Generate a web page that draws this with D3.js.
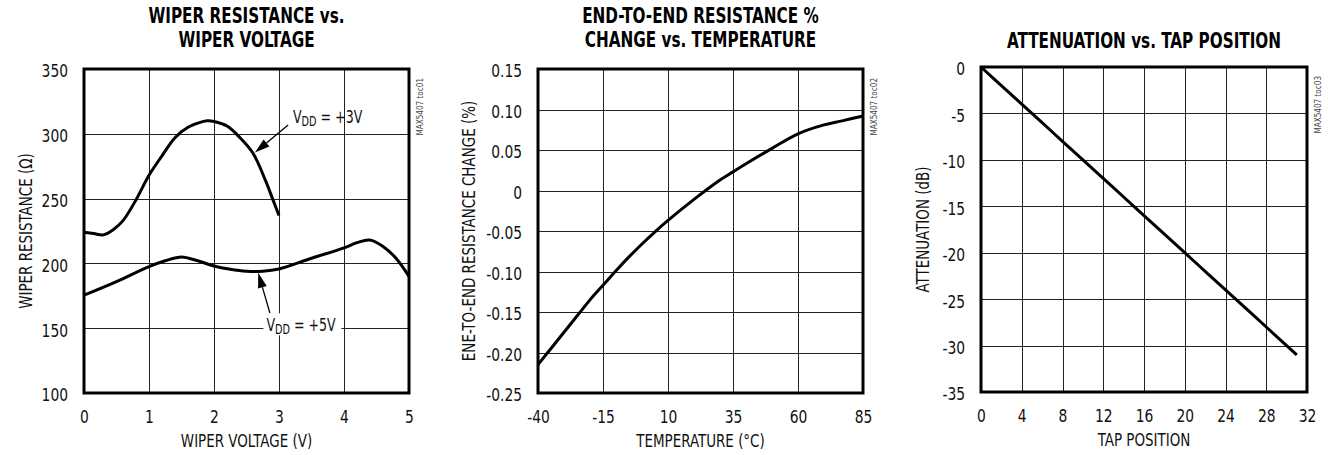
<!DOCTYPE html>
<html>
<head>
<meta charset="utf-8">
<script src="https://cdn.jsdelivr.net/npm/d3@7"></script>
<style>
  body { margin: 0; background: #fff; }
  svg { display: block; }
  text { font-family: "Liberation Sans Narrow", "Arial Narrow", "DejaVu Sans Condensed", sans-serif; fill: #111; }
  .title { font-weight: bold; font-size: 22px; fill: #000; }
  .tick text { font-size: 17.5px; }
  .axtitle { font-size: 17px; }
  .side { font-size: 9.5px; fill: #444; }
  .note { font-size: 17.5px; }
</style>
</head>
<body>
<script>

// panel 1 : wiper resistance vs wiper voltage
var volts3 = [0, 0.15, 0.3, 0.45, 0.6, 0.8, 1.0, 1.2, 1.4, 1.6, 1.8, 1.9, 2.0, 2.2, 2.4, 2.6, 2.8, 2.9, 3.0];
var ohms3  = [224, 223, 222, 226, 233, 249, 268, 283, 297, 305, 309, 310, 309.5, 306, 297, 285, 263, 250, 237];
var volts5 = [0, 0.5, 1.0, 1.25, 1.5, 1.75, 2.0, 2.25, 2.5, 2.75, 3.0, 3.5, 4.0, 4.2, 4.4, 4.6, 4.8, 5.0];
var ohms5  = [175.5, 186, 197.5, 202, 205, 202, 198, 195.5, 194, 194, 195.7, 204, 212, 216, 218, 213, 204, 190];
var voltTicks = [0, 1, 2, 3, 4, 5];
var ohmTicks = [100, 150, 200, 250, 300, 350];

// panel 2 : end-to-end resistance change vs temperature
var tempC = [-40, -35, -30, -25, -20, -15, -10, -5, 0, 5, 10, 20, 30, 35, 40, 50, 60, 70, 77, 85];
var pctChange = [-0.215, -0.195, -0.175, -0.155, -0.135, -0.117, -0.099, -0.082, -0.066, -0.051, -0.037, -0.011, 0.013, 0.023, 0.033, 0.052, 0.070, 0.081, 0.086, 0.092];
var tempTicks = [-40, -15, 10, 35, 60, 85];
var pctTicks = [-0.25, -0.20, -0.15, -0.10, -0.05, 0, 0.05, 0.10, 0.15];

// panel 3 : attenuation vs tap position
var taps = [0, 1, 2, 3, 4, 5, 6, 7, 8, 9, 10, 11, 12, 13, 14, 15, 16, 17, 18, 19, 20, 21, 22, 23, 24, 25, 26, 27, 28, 29, 30, 31];
var attenDb = [0, -1, -2, -3, -4, -5, -6, -7, -8, -9, -10, -11, -12, -13, -14, -15, -16, -17, -18, -19, -20, -21, -22, -23, -24, -25, -26, -27, -28, -29, -30, -31];
var tapTicks = [0, 4, 8, 12, 16, 20, 24, 28, 32];
var dbTicks = [-35, -30, -25, -20, -15, -10, -5, 0];

var svg = d3.select("body").append("svg").attr("width", 1328).attr("height", 455);

// the original uses a condensed face, so squeeze the fallback font sideways
var squeeze = { title: 0.77, tick: 0.88, axis: 0.88, side: 0.85, note: 0.8 };

function zip(xs, ys) { return xs.map(function (x, i) { return [x, ys[i]]; }); }

function label(cls, x, y, anchor, txt, rot) {
    return svg.append("text").attr("class", cls).attr("text-anchor", anchor)
        .attr("transform", "translate(" + x + "," + y + ")" + (rot ? " rotate(-90)" : "") + " scale(" + squeeze[cls === "axtitle" ? "axis" : cls] + ",1)")
        .text(txt);
}

function panel(p) {
    var x = d3.scaleLinear().domain(p.xDomain).range([p.left, p.left + p.w]);
    var y = d3.scaleLinear().domain(p.yDomain).range([p.top + p.h, p.top]);

    p.title.forEach(function (t, i) {
        label("title", p.left + p.w / 2, p.titleY[i], "middle", t, false);
    });

    var xAxis = d3.axisBottom(x).tickValues(p.xTicks).tickSize(-p.h).tickPadding(18).tickFormat(p.xFmt);
    var gx = svg.append("g").attr("transform", "translate(0," + (p.top + p.h) + ")").call(xAxis);
    var yAxis = d3.axisLeft(y).tickValues(p.yTicks).tickSize(-p.w).tickPadding(16).tickFormat(p.yFmt);
    var gy = svg.append("g").attr("transform", "translate(" + p.left + ",0)").call(yAxis);
    [gx, gy].forEach(function (g) {
        g.select(".domain").remove();
        g.selectAll(".tick line").attr("stroke", "#222").attr("shape-rendering", "crispEdges");
        g.selectAll(".tick text").attr("font-family", null).attr("font-size", null).attr("fill", "#111")
            .attr("transform", "scale(" + squeeze.tick + ",1)");
    });
    gy.selectAll(".tick text").attr("dy", "0.45em").attr("x", -16 / squeeze.tick);

    label("axtitle", p.left + p.w / 2, p.top + p.h + 54, "middle", p.xLabel, false);
    label("axtitle", p.yLabelX, p.top + p.h / 2, "middle", p.yLabel, true);
    label("side", p.left + p.w + 14, p.top + 9, "end", p.side, true);

    var g = { x: x, y: y, over: null };
    var lines = svg.append("g");
    p.series.forEach(function (s) {
        lines.append("path").datum(s)
            .attr("fill", "none").attr("stroke", "#000").attr("stroke-width", 3)
            .attr("stroke-linejoin", "round").attr("stroke-linecap", "butt")
            .attr("d", d3.line().x(function (d) { return x(d[0]); }).y(function (d) { return y(d[1]); }).curve(p.curve));
    });
    g.over = svg.append("g");

    svg.append("rect").attr("x", p.left).attr("y", p.top).attr("width", p.w).attr("height", p.h)
        .attr("fill", "none").attr("stroke", "#000").attr("stroke-width", 3);
    return g;
}

function fmtPlain(d) { return String(d); }
function fmtPct(d) { return d === 0 ? "0" : d.toFixed(2); }

var p1 = panel({
    left: 84, top: 69, w: 325, h: 324,
    xDomain: [0, 5], yDomain: [100, 350], xTicks: voltTicks, yTicks: ohmTicks,
    xFmt: fmtPlain, yFmt: fmtPlain,
    title: ["WIPER RESISTANCE vs.", "WIPER VOLTAGE"], titleY: [23, 47],
    xLabel: "WIPER VOLTAGE (V)", yLabel: "WIPER RESISTANCE (\u03A9)", yLabelX: 32,
    side: "MAX5407 toc01",
    series: [zip(volts3, ohms3), zip(volts5, ohms5)], curve: d3.curveCatmullRom
});

panel({
    left: 538, top: 69, w: 325, h: 324,
    xDomain: [-40, 85], yDomain: [-0.25, 0.15], xTicks: tempTicks, yTicks: pctTicks,
    xFmt: fmtPlain, yFmt: fmtPct,
    title: ["END-TO-END RESISTANCE %", "CHANGE vs. TEMPERATURE"], titleY: [23, 47],
    xLabel: "TEMPERATURE (\u00B0C)", yLabel: "ENE-TO-END RESISTANCE CHANGE (%)", yLabelX: 475,
    side: "MAX5407 toc02",
    series: [zip(tempC, pctChange)], curve: d3.curveCatmullRom
});

panel({
    left: 981, top: 67, w: 326, h: 325,
    xDomain: [0, 32], yDomain: [-35, 0], xTicks: tapTicks, yTicks: dbTicks,
    xFmt: fmtPlain, yFmt: fmtPlain,
    title: ["ATTENUATION vs. TAP POSITION"], titleY: [48],
    xLabel: "TAP POSITION", yLabel: "ATTENUATION (dB)", yLabelX: 929,
    side: "MAX5407 toc03",
    series: [zip(taps, attenDb)], curve: d3.curveLinear
});

// VDD annotations on panel 1
function arrow(g, x0, y0, x1, y1) {
    var ang = Math.atan2(y1 - y0, x1 - x0), L = 15, W = 4.5;
    var bx = x1 - L * Math.cos(ang), by = y1 - L * Math.sin(ang);
    g.append("line").attr("x1", x0).attr("y1", y0).attr("x2", bx).attr("y2", by)
        .attr("stroke", "#000").attr("stroke-width", 1.3);
    g.append("path").attr("fill", "#000").attr("d",
        "M" + x1 + "," + y1 +
        "L" + (bx - W * Math.sin(ang)) + "," + (by + W * Math.cos(ang)) +
        "L" + (bx + W * Math.sin(ang)) + "," + (by - W * Math.cos(ang)) + "Z");
}

function vddLabel(g, x, y, anchor, value) {
    var t = g.append("text").attr("class", "note").attr("text-anchor", anchor)
        .attr("transform", "translate(" + x + "," + y + ") scale(" + squeeze.note + ",1)");
    t.append("tspan").text("V");
    t.append("tspan").attr("font-size", "13.5px").attr("dy", 3).text("DD");
    t.append("tspan").attr("dy", -3).text(" = " + value);
    return t;
}

var ox = p1.x, oy = p1.y, og = p1.over;
arrow(og, ox(3.14), oy(306.8), ox(2.63), oy(285.5));
vddLabel(og, ox(3.215), oy(308.3), "start", "+3V");

og.append("rect").attr("x", ox(2.76)).attr("y", oy(161.5)).attr("width", ox(3.96) - ox(2.76)).attr("height", oy(144.5) - oy(161.5))
    .attr("fill", "#fff");
arrow(og, ox(2.86), oy(161.7), ox(2.68), oy(192.8));
vddLabel(og, ox(3.34), oy(147.6), "middle", "+5V");

</script>
</body>
</html>
